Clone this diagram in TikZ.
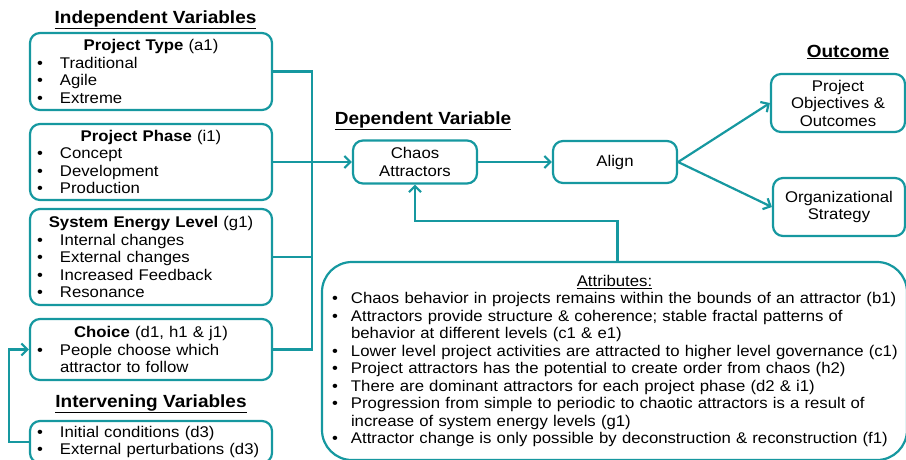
\documentclass[tikz,border=0pt]{standalone}
\usepackage{fontspec}
\setmainfont{Liberation Sans}[FakeStretch=1.08]
\usetikzlibrary{arrows.meta}
\definecolor{teal1}{RGB}{22,152,160}
\newcommand{\boxfont}{\fontsize{15.5}{17.5}\selectfont}
\newcommand{\headfont}{\fontsize{17.6}{20}\selectfont\bfseries}
\newcommand{\ttl}[1]{\noindent\makebox[\hsize]{#1}\par}
\newcommand{\bitem}[2][24pt]{\noindent\hangindent=#1\hangafter=1\makebox[#1][l]{\hspace*{1pt}\textbullet}#2\par}

\begin{document}
\begin{tikzpicture}[x=1pt,y=-1pt,
  box/.style={draw=teal1,line width=2.2pt,rounded corners=10pt,font=\boxfont},
  varbox/.style={box,minimum width=242pt,text width=230pt,inner xsep=6pt,inner ysep=2pt,align=left},
  smallbox/.style={box,align=center,inner sep=2pt},
  heading/.style={font=\headfont,inner sep=0pt,anchor=base},
  link/.style={draw=teal1,line width=2.2pt},
  arr/.style={-{Straight Barb[length=6pt,width=12pt]}}]
\useasboundingbox (0,0) rectangle (906,459);
\clip (0,0) rectangle (906,459);

% headings
\node[heading] (hind) at (155.5,23) {\underline{Independent Variables}};
\node[heading] (hdep) at (423,124) {\underline{Dependent Variable}};
\node[heading] (hout) at (848,57) {\underline{Outcome}};
\node[heading] (hint) at (151,407) {\underline{Intervening Variables}};

% left column
\node[varbox,minimum height=77pt] (ptype) at (151,71.5) {\ttl{\textbf{Project Type} (a1)}\bitem{Traditional}\bitem{Agile}\bitem{Extreme}};
\node[varbox,minimum height=76pt] (pphase) at (151,162) {\ttl{\textbf{Project Phase} (i1)}\bitem{Concept}\bitem{Development}\bitem{Production}};
\node[varbox,minimum height=96pt] (energy) at (151,257) {\ttl{\textbf{System Energy Level} (g1)}\bitem{Internal changes}\bitem{External changes}\bitem{Increased Feedback}\bitem{Resonance}};
\node[varbox,minimum height=61pt] (choice) at (151,349.5) {\ttl{\textbf{Choice} (d1, h1 \& j1)}\bitem{People choose which\newline attractor to follow}};
\node[varbox,minimum height=42pt] (interv) at (151,442) {\bitem{Initial conditions (d3)}\bitem{External perturbations (d3)}};

% middle and right
\node[smallbox,minimum width=124pt,minimum height=43pt] (chaos) at (415,162) {Chaos\\Attractors};
\node[smallbox,minimum width=124pt,minimum height=42pt] (align) at (615,162) {Align};
\node[smallbox,minimum width=134pt,minimum height=58pt] (objectives) at (838,103) {Project\\Objectives \&\\Outcomes};
\node[smallbox,minimum width=132pt,minimum height=58pt] (strategy) at (839,207) {Organizational\\Strategy};

\node[box,rounded corners=30pt,minimum width=585pt,minimum height=198pt,text width=567pt,inner xsep=9pt,align=left] (attr) at (614.5,361) {\ttl{\underline{Attributes:}}
\bitem[20pt]{Chaos behavior in projects remains within the bounds of an attractor (b1)}
\bitem[20pt]{Attractors provide structure \& coherence; stable fractal patterns of\newline behavior at different levels (c1 \& e1)}
\bitem[20pt]{Lower level project activities are attracted to higher level governance (c1)}
\bitem[20pt]{Project attractors has the potential to create order from chaos (h2)}
\bitem[20pt]{There are dominant attractors for each project phase (d2 \& i1)}
\bitem[20pt]{Progression from simple to periodic to chaotic attractors is a result of\newline increase of system energy levels (g1)}
\bitem[20pt]{Attractor change is only possible by deconstruction \& reconstruction (f1)}};

% connectors
\coordinate (bustop) at (312,71.5);
\draw[link] (ptype.east) -- (bustop) -- (bustop |- choice.east) -- (choice.east);
\draw[link] (energy.east) -- (energy.east -| bustop);
\draw[link,arr] (pphase.east) -- (chaos.west);
\draw[link,arr] (chaos) -- (align);
\draw[link,arr] (align.east) -- (objectives.west);
\draw[link,arr] (align.east) -- (strategy.west);
\draw[link,arr] ([xshift=3pt]attr.north) -- ++(0,-40) -| (chaos.south);
\draw[link,arr] (interv.west) -- ++(-20,0) |- (choice.west);
\end{tikzpicture}
\end{document}
